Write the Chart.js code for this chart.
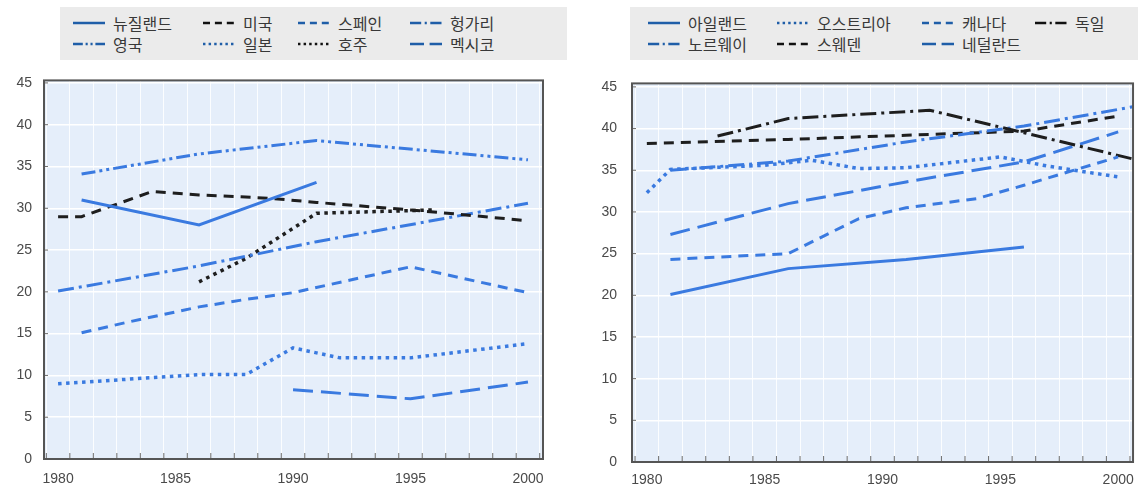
<!DOCTYPE html>
<html>
<head>
<meta charset="utf-8">
<script src="https://cdn.jsdelivr.net/npm/chart.js@4/dist/chart.umd.min.js"></script>
<style>
  body {
    margin: 0;
    width: 1140px;
    height: 489px;
    position: relative;
    overflow: hidden;
    background: #ffffff;
    font-family: "Noto Sans CJK KR", "Noto Sans", sans-serif;
  }
  .legend {
    position: absolute;
    top: 7px;
    height: 53px;
    background: #ebebeb;
  }
  .legend .item {
    position: absolute;
    height: 21px;
    display: flex;
    align-items: center;
    font-size: 16px;
    color: #383838;
    white-space: nowrap;
  }
  .legend svg {
    margin-right: 8px;
  }
  canvas {
    position: absolute;
    top: 60px;
  }
</style>
</head>
<body>
<div id="legend-left" class="legend" style="left:60px;width:507px"></div>
<div id="legend-right" class="legend" style="left:630px;width:508px"></div>
<canvas id="chart-left" width="560" height="429" style="left:0"></canvas>
<canvas id="chart-right" width="555" height="429" style="left:585px"></canvas>
<script>
// [year, value] pairs for each country
const newZealand = [[1981, 31.0], [1986, 28.0], [1991, 33.1]];
const unitedStates = [[1980, 29.0], [1981, 29.0], [1984, 32.0], [1986, 31.6], [1989, 31.2], [1991, 30.7], [1995, 29.8], [1997, 29.3], [2000, 28.5]];
const spain = [[1981, 15.1], [1983, 16.4], [1986, 18.2], [1988, 19.1], [1990, 19.9], [1995, 23.0], [2000, 19.9]];
const hungary = [[1980, 20.1], [1986, 23.1], [1991, 26.0], [2000, 30.6]];
const unitedKingdom = [[1981, 34.1], [1986, 36.5], [1991, 38.1], [2000, 35.8]];
const japan = [[1980, 9.0], [1986, 10.1], [1988, 10.1], [1990, 13.3], [1992, 12.1], [1995, 12.1], [2000, 13.8]];
const australia = [[1986, 21.2], [1988, 24.0], [1991, 29.4], [1996, 29.8]];
const mexico = [[1990, 8.3], [1995, 7.2], [2000, 9.2]];

const ireland = [[1981, 20.1], [1986, 23.2], [1991, 24.3], [1996, 25.8]];
const austria = [[1980, 32.3], [1981, 35.1], [1985, 35.6], [1987, 36.2], [1989, 35.2], [1991, 35.3], [1995, 36.6], [1997, 35.5], [2000, 34.2]];
const canada = [[1981, 24.3], [1986, 25.0], [1989, 29.2], [1991, 30.5], [1994, 31.6], [1996, 33.2], [2000, 36.6]];
const germany = [[1983, 39.1], [1986, 41.2], [1992, 42.2], [1996, 39.5], [2001, 36.1]];
const norway = [[1981, 35.0], [1986, 36.1], [1991, 38.4], [1996, 40.3], [2001, 42.8]];
const sweden = [[1980, 38.2], [1986, 38.7], [1991, 39.2], [1996, 39.7], [2000, 41.5]];
const netherlands = [[1981, 27.3], [1986, 31.0], [1991, 33.6], [1996, 36.0], [2000, 39.6]];

const yTicks = [0, 5, 10, 15, 20, 25, 30, 35, 40, 45];
const tickYears = [1980, 1985, 1990, 1995, 2000];

const blue = "#3a7ae0";
const black = "#1e1e1e";
const legendBlue = "#1f5ea8";
const legendBlack = "#111111";

const solid = [];
const dashed = [10, 7];
const dotted = [3.5, 4.5];
const dashDot = [16, 5, 3, 5];
const dashDotDot = [14, 4, 3, 4, 3, 4];
const longDash = [20, 8];

const leftSeries = [
  { label: "뉴질랜드", points: newZealand, colour: blue, dash: solid },
  { label: "미국", points: unitedStates, colour: black, dash: dashed },
  { label: "스페인", points: spain, colour: blue, dash: dashed },
  { label: "헝가리", points: hungary, colour: blue, dash: dashDot },
  { label: "영국", points: unitedKingdom, colour: blue, dash: dashDotDot },
  { label: "일본", points: japan, colour: blue, dash: dotted },
  { label: "호주", points: australia, colour: black, dash: dotted },
  { label: "멕시코", points: mexico, colour: blue, dash: longDash }
];

const rightSeries = [
  { label: "아일랜드", points: ireland, colour: blue, dash: solid },
  { label: "오스트리아", points: austria, colour: blue, dash: dotted },
  { label: "캐나다", points: canada, colour: blue, dash: dashed },
  { label: "독일", points: germany, colour: black, dash: dashDot },
  { label: "노르웨이", points: norway, colour: blue, dash: dashDot },
  { label: "스웨덴", points: sweden, colour: black, dash: dashed },
  { label: "네덜란드", points: netherlands, colour: blue, dash: longDash }
];

// half-year positions carry the faint vertical grid and the small inner tick marks
const halfYears = [];
for (let i = 0; i <= 42; i++) halfYears.push(1979.5 + i * 0.5);

const tickFont = { family: "Liberation Sans", size: 14 };

const plotFrame = {
  id: "plotFrame",
  beforeDraw(chart) {
    const { ctx, chartArea: a } = chart;
    ctx.save();
    ctx.fillStyle = "#e5eefa";
    ctx.fillRect(a.left, a.top, a.right - a.left, a.bottom - a.top);
    ctx.restore();
  },
  afterDraw(chart) {
    const { ctx, chartArea: a, scales } = chart;
    ctx.save();
    ctx.strokeStyle = "#6b6b6b";
    ctx.lineWidth = 1;
    ctx.beginPath();
    halfYears.forEach(v => {
      if (v % 1 === 0) return;
      const x = scales.x.getPixelForValue(v);
      if (x <= a.left || x >= a.right) return;
      ctx.moveTo(x, a.bottom);
      ctx.lineTo(x, a.bottom - 6);
    });
    yTicks.forEach(v => {
      const y = scales.y.getPixelForValue(v);
      ctx.moveTo(a.left, y);
      ctx.lineTo(a.left + 4, y);
    });
    ctx.stroke();
    ctx.strokeStyle = "#555555";
    ctx.lineWidth = 2;
    ctx.strokeRect(a.left, a.top, a.right - a.left, a.bottom - a.top);
    ctx.restore();
  }
};

function plotPanel(canvasId, series, frame) {
  return new Chart(document.getElementById(canvasId), {
    type: "line",
    data: {
      datasets: series.map(s => ({
        label: s.label,
        data: s.points.map(p => ({ x: p[0], y: p[1] })),
        borderColor: s.colour,
        borderWidth: s.dash === dotted ? 3.5 : 3,
        borderDash: s.dash,
        pointRadius: 0,
        tension: 0,
        fill: false
      }))
    },
    options: {
      responsive: false,
      animation: false,
      devicePixelRatio: 1,
      layout: { padding: { top: frame.top, right: frame.right, left: 0, bottom: 0 } },
      plugins: {
        legend: { display: false },
        tooltip: { enabled: false }
      },
      scales: {
        x: {
          type: "linear",
          min: frame.xMin,
          max: frame.xMax,
          afterBuildTicks: scale => {
            scale.ticks = halfYears.map(v => ({ value: v }));
          },
          afterFit: scale => {
            scale.height = frame.xHeight;
          },
          grid: {
            color: ctx => (ctx.tick && ctx.tick.value % 1 !== 0 ? "rgba(255,255,255,0.85)" : "rgba(0,0,0,0)"),
            lineWidth: 1,
            drawTicks: false
          },
          border: { display: false },
          ticks: {
            autoSkip: false,
            maxRotation: 0,
            minRotation: 0,
            padding: frame.xPad,
            color: "#4a4a4a",
            font: tickFont,
            callback: v => (tickYears.includes(v) ? String(v) : "")
          }
        },
        y: {
          min: 0,
          max: frame.yMax,
          afterBuildTicks: scale => {
            scale.ticks = yTicks.map(v => ({ value: v }));
          },
          afterFit: scale => {
            scale.width = frame.yWidth;
          },
          grid: { color: "#ffffff", lineWidth: 1.5, drawTicks: false },
          border: { display: false },
          ticks: {
            padding: frame.yPad,
            color: "#4a4a4a",
            font: tickFont
          }
        }
      }
    },
    plugins: [plotFrame]
  });
}

function buildLegend(elementId, series, columns) {
  const box = document.getElementById(elementId);
  series.forEach((s, i) => {
    const item = document.createElement("div");
    item.className = "item";
    item.style.left = columns[i % 4] + "px";
    item.style.top = (5 + Math.floor(i / 4) * 21) + "px";
    const colour = s.colour === blue ? legendBlue : legendBlack;
    const dash = s.dash.length ? s.dash.map(d => d * 0.7).join(" ") : "none";
    item.innerHTML =
      '<svg width="32" height="6"><line x1="0" y1="3" x2="32" y2="3" stroke="' + colour +
      '" stroke-width="2.5" stroke-dasharray="' + dash + '"/></svg>';
    const text = document.createElement("span");
    text.textContent = s.label;
    item.appendChild(text);
    box.appendChild(item);
  });
}

buildLegend("legend-left", leftSeries, [13, 143, 238, 350]);
buildLegend("legend-right", rightSeries, [18, 147, 292, 405]);

plotPanel("chart-left", leftSeries, {
  top: 13, right: 17, xHeight: 30, yWidth: 44,
  xMin: 1979.4, xMax: 2000.64, yMax: 45.3, xPad: 12, yPad: 12
});

plotPanel("chart-right", rightSeries, {
  top: 15, right: 5, xHeight: 27, yWidth: 47,
  xMin: 1979.37, xMax: 2000.63, yMax: 45.42, xPad: 10, yPad: 15
});
</script>
</body>
</html>
